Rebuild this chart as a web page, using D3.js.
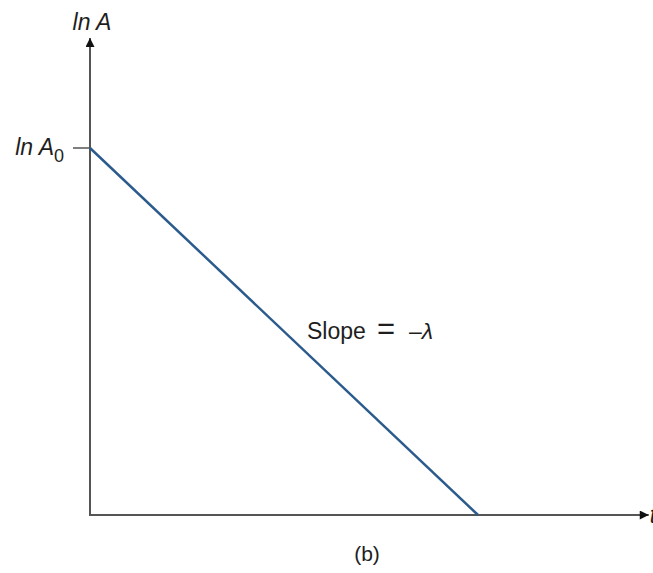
<!DOCTYPE html>
<html>
<head>
<meta charset="utf-8">
<script src="https://cdn.jsdelivr.net/npm/d3@7"></script>
<style>
  html, body { margin: 0; padding: 0; background: #fff; }
  svg { display: block; }
  text { font-family: "Liberation Sans", Arial, sans-serif; fill: #1e1e1e; }
</style>
</head>
<body>
<svg id="chart" width="653" height="573"></svg>
<script>
// Decay line ln A versus t: starts at ln A0 and falls with slope -lambda
const timePoints = [0, 1];
const lnAValues = [1, 0];
const yTickValues = [1];
const yTickLabels = ["ln A0"];
const axisExtent = { t: 1.44, lnA: 1.30 };

const svg = d3.select("#chart");
const ox = 90, oy = 515;

const x = d3.scaleLinear().domain([0, 1]).range([ox, 478]);
const y = d3.scaleLinear().domain([0, 1]).range([oy, 148]);

const axisColor = "#555";

// arrowhead marker
const defs = svg.append("defs");
defs.append("marker")
  .attr("id", "arrow")
  .attr("viewBox", "0 0 10 10")
  .attr("refX", 10).attr("refY", 5)
  .attr("markerWidth", 15).attr("markerHeight", 9)
  .attr("markerUnits", "userSpaceOnUse")
  .attr("orient", "auto")
  .append("path")
  .attr("d", "M0,0 L10,5 L0,10 Z")
  .attr("fill", "#111");

// axes
svg.append("line")
  .attr("x1", x(0) - 1).attr("y1", y(0))
  .attr("x2", x(axisExtent.t)).attr("y2", y(0))
  .attr("stroke", axisColor).attr("stroke-width", 2)
  .attr("marker-end", "url(#arrow)");
svg.append("line")
  .attr("x1", x(0)).attr("y1", y(0) + 1)
  .attr("x2", x(0)).attr("y2", y(axisExtent.lnA))
  .attr("stroke", axisColor).attr("stroke-width", 2)
  .attr("marker-end", "url(#arrow)");

// y tick and its label
yTickValues.forEach((v, i) => {
  svg.append("line")
    .attr("x1", x(0) - 17).attr("x2", x(0))
    .attr("y1", y(v)).attr("y2", y(v))
    .attr("stroke", axisColor).attr("stroke-width", 1.5);
  const parts = yTickLabels[i].match(/^(.*?)(\d+)$/);
  const t = svg.append("text")
    .attr("x", x(0) - 26).attr("y", y(v) + 7)
    .attr("text-anchor", "end")
    .attr("font-size", 23).attr("font-style", "italic");
  t.append("tspan").text(parts[1]);
  t.append("tspan").attr("dy", 7).attr("font-style", "normal").attr("font-size", 18).text(parts[2]);
});

// axis titles
svg.append("text")
  .attr("x", x(0) + 2).attr("y", 30)
  .attr("text-anchor", "middle")
  .attr("font-size", 23).attr("font-style", "italic")
  .text("ln A");
svg.append("text")
  .attr("x", x(axisExtent.t) + 1).attr("y", y(0) + 8)
  .attr("font-size", 23).attr("font-style", "italic")
  .text("t");

// decay line
const line = d3.line().x((d, i) => x(timePoints[i])).y(d => y(d));
svg.append("path")
  .datum(lnAValues)
  .attr("d", line)
  .attr("fill", "none")
  .attr("stroke", "#2b5b8c")
  .attr("stroke-width", 2.5);

// slope annotation
const slope = svg.append("text")
  .attr("x", 307).attr("y", 339)
  .attr("font-size", 23);
slope.append("tspan").text("Slope");
slope.append("tspan").attr("x", 377).attr("font-size", 31).text("=");
slope.append("tspan").attr("x", 409).text("\u2013");
slope.append("tspan").attr("font-style", "italic").text("\u03BB");

// panel label
svg.append("text")
  .attr("x", 367).attr("y", 561)
  .attr("text-anchor", "middle")
  .attr("font-size", 21)
  .text("(b)");
</script>
</body>
</html>
